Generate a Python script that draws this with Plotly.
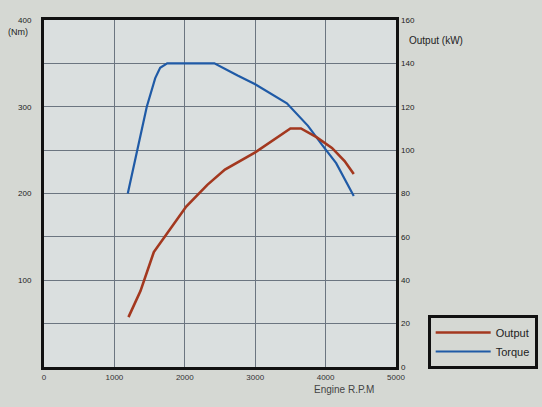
import plotly.graph_objects as go

# Torque curve (Nm, left axis)
rpm_torque = [1190, 1330, 1460, 1580, 1650, 1750, 2000, 2420, 2750, 3000, 3450, 3750, 3950, 4150, 4400]
torque_nm = [200, 250, 300, 333, 345, 350, 350, 350, 336, 326, 304, 278, 256, 235, 197]

# Output curve (kW, right axis)
rpm_output = [1200, 1370, 1560, 1760, 2020, 2320, 2570, 3000, 3270, 3500, 3650, 3870, 4090, 4270, 4400]
output_kw = [23, 35, 53, 62, 74, 84, 91, 99, 105, 110, 110, 106, 101, 95, 89]

x_ticks = [0, 1000, 2000, 3000, 4000, 5000]
left_ticks = [100, 200, 300, 400]
right_ticks = [0, 20, 40, 60, 80, 100, 120, 140, 160]

PAPER = "#d5d8d3"
PLOT = "#dadfdf"
GRID = "#6b7580"
FONT = "Liberation Sans, Arial, sans-serif"

fig = go.Figure()
fig.add_trace(go.Scatter(x=rpm_output, y=output_kw, name="Output", mode="lines",
                         line=dict(color="#a3381f", width=2.6), yaxis="y2"))
fig.add_trace(go.Scatter(x=rpm_torque, y=torque_nm, name="Torque", mode="lines",
                         line=dict(color="#1f5aa6", width=2.2), yaxis="y"))

fig.update_layout(
    width=542, height=407,
    margin=dict(l=44, r=146, t=20, b=40, autoexpand=False),
    paper_bgcolor=PAPER, plot_bgcolor=PLOT,
    font=dict(family=FONT, size=8, color="#1c1c1c"),
    xaxis=dict(range=[0, 5000], tickvals=x_ticks, ticktext=[str(v) for v in x_ticks],
               showgrid=True, gridcolor=GRID, gridwidth=0.8, zeroline=False,
               showline=True, mirror=True, linecolor="#111", linewidth=3,
               ticks="", automargin=False, tickfont=dict(size=8, color="#333")),
    yaxis=dict(range=[0, 400], tickvals=left_ticks, ticktext=[str(v) for v in left_ticks],
               showgrid=False, zeroline=False, showline=True, mirror=True,
               linecolor="#111", linewidth=3, ticks="", ticklabelstandoff=8,
               automargin=False, tickfont=dict(size=8, color="#222")),
    yaxis2=dict(range=[0, 160], tickvals=right_ticks, ticktext=[str(v) for v in right_ticks],
                overlaying="y", side="right", showgrid=True, gridcolor=GRID, gridwidth=0.8,
                zeroline=False, showline=False, ticks="", ticklabelstandoff=4,
                automargin=False, tickfont=dict(size=8, color="#222")),
    legend=dict(x=1.09, y=0.072, xanchor="left", yanchor="middle",
                bgcolor=PAPER, bordercolor="#111", borderwidth=3,
                font=dict(size=11, color="#222"), itemwidth=55,
                tracegroupgap=0),
    showlegend=True,
)

fig.add_annotation(text="(Nm)", xref="paper", yref="paper", x=-0.04, y=0.965,
                   xanchor="right", yanchor="middle", showarrow=False,
                   font=dict(size=9, color="#222"))
fig.add_annotation(text="Output (kW)", xref="paper", yref="paper", x=1.03, y=0.942,
                   xanchor="left", yanchor="middle", showarrow=False,
                   font=dict(size=10, color="#222"))
fig.add_annotation(text="Engine R.P.M", xref="paper", yref="paper", x=0.853, y=-0.066,
                   xanchor="center", yanchor="middle", showarrow=False,
                   font=dict(size=10, color="#444"))

fig.write_html("out.html", config={"displayModeBar": False},
               post_script="document.body.style.margin='0';")
